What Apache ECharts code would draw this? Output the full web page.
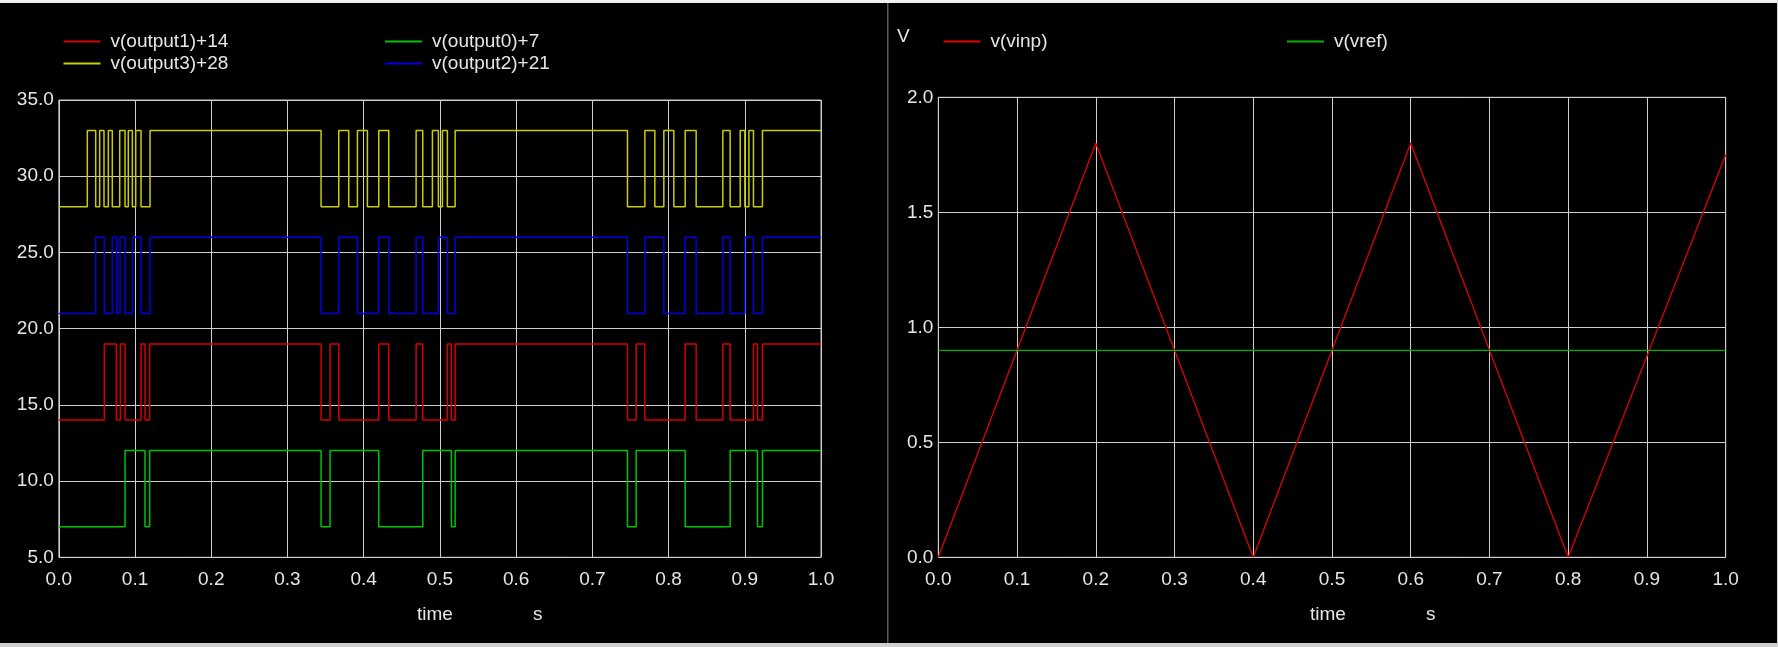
<!DOCTYPE html>
<html>
<head>
<meta charset="utf-8">
<script src="https://cdn.jsdelivr.net/npm/echarts@6/dist/echarts.min.js"></script>
<style>
html,body{margin:0;padding:0;background:#000;}
#c{width:1778px;height:647px;}
</style>
</head>
<body>
<div id="c"></div>
<script>
// ---- Data (left chart: digital outputs, toggle times in seconds; each starts low) ----
var xTicks = [0,0.1,0.2,0.3,0.4,0.5,0.6,0.7,0.8,0.9,1.0];
var logicHigh = 5;
var out1Name = 'v(output1)+14', out1Offset = 14;
var out1Toggles = [0.0597,0.0755,0.0808,0.0869,0.1079,0.1131,0.1192,
  0.3441,0.3559,0.3673,0.4198,0.4329,0.4688,0.4775,0.5098,0.5151,0.5200,
  0.7461,0.7575,0.7689,0.8218,0.8362,0.8712,0.8808,0.9114,0.9167,0.9232];
var out0Name = 'v(output0)+7', out0Offset = 7;
var out0Toggles = [0.0869,0.1131,0.1192,
  0.3441,0.3559,0.4198,0.4775,0.5151,0.5200,
  0.7461,0.7575,0.8218,0.8808,0.9167,0.9232];
var out3Name = 'v(output3)+28', out3Offset = 28;
var out3Toggles = [0.0374,0.0484,0.0536,0.0593,0.0650,0.0702,0.0799,0.0869,0.0912,0.0965,0.1009,0.1079,0.1197,
  0.3441,0.3673,0.3804,0.3918,0.4049,0.4198,0.4329,0.4688,0.4775,0.4902,0.4980,0.5033,0.5098,0.5200,
  0.7461,0.7689,0.7820,0.7938,0.8069,0.8218,0.8362,0.8712,0.8808,0.8940,0.9001,0.9054,0.9114,0.9232];
var out2Name = 'v(output2)+21', out2Offset = 21;
var out2Toggles = [0.0484,0.0597,0.0702,0.0760,0.0803,0.0869,0.0965,0.1079,0.1197,
  0.3441,0.3673,0.3918,0.4198,0.4329,0.4688,0.4775,0.4980,0.5098,0.5200,
  0.7461,0.7689,0.7938,0.8218,0.8362,0.8712,0.8808,0.9001,0.9114,0.9232];

// ---- Data (right chart) ----
var vinpTime = [0, 0.2, 0.4, 0.6, 0.8, 1.0];
var vinpVal  = [0, 1.8, 0.0, 1.8, 0.0, 1.75];
var vrefTime = [0, 1.0];
var vrefVal  = [0.9, 0.9];

function stepData(toggles, offset){
  var lvl = 0, d = [[0, offset]];
  toggles.forEach(function(t){ lvl = lvl ? 0 : logicHigh; d.push([t, offset + lvl]); });
  d.push([1.0, offset + lvl]);
  return d;
}
function zip(a,b){ return a.map(function(v,i){return [v,b[i]];}); }

var FONT = 'Liberation Sans, Arial, sans-serif';
var txtColor = '#e6e6e6';
var gridColor = '#cfcfcf';
var C = {red:'#d40000', green:'#00c400', yellow:'#cccc00', blue:'#0000e6', red2:'#e00000', green2:'#00b400'};

function xAxisCfg(gi){
  return {type:'value', gridIndex:gi, min:0, max:1, interval:0.1,
    axisLine:{show:false}, axisTick:{show:false},
    splitLine:{show:true, lineStyle:{color:gridColor, width:1}},
    axisLabel:{color:txtColor, fontFamily:FONT, fontSize:19, margin:13,
      formatter:function(v){return v.toFixed(1);}}};
}
function yAxisCfg(gi, mn, mx, iv){
  return {type:'value', gridIndex:gi, min:mn, max:mx, interval:iv,
    axisLine:{show:false}, axisTick:{show:false},
    splitLine:{show:true, lineStyle:{color:gridColor, width:1}},
    axisLabel:{color:txtColor, fontFamily:FONT, fontSize:19, margin:5,
      formatter:function(v){return v.toFixed(1);}}};
}
function legendCfg(name, left, top){
  return {data:[name], left:left, top:top, icon:'rect', itemWidth:37, itemHeight:2,
    selectedMode:false,
    textStyle:{color:txtColor, fontFamily:FONT, fontSize:19, padding:[0,0,0,5]}};
}
function lineS(name, data, color, xi, w){
  return {type:'line', name:name, data:data, xAxisIndex:xi, yAxisIndex:xi,
    showSymbol:false, symbol:'none', lineStyle:{color:color, width:w}, itemStyle:{color:color},
    animation:false};
}

var chart = echarts.init(document.getElementById('c'));
var s1 = lineS(out1Name, stepData(out1Toggles, out1Offset), C.red, 0, 1.5); s1.step='end';
var s0 = lineS(out0Name, stepData(out0Toggles, out0Offset), C.green, 0, 1.5); s0.step='end';
var s3 = lineS(out3Name, stepData(out3Toggles, out3Offset), C.yellow, 0, 1.5); s3.step='end';
var s2 = lineS(out2Name, stepData(out2Toggles, out2Offset), C.blue, 0, 1.5); s2.step='end';

chart.setOption({
  backgroundColor:'#000',
  animation:false,
  grid:[
    {left:58.8, right:1778-821, top:100, bottom:647-557.3, show:true, borderColor:'#bdbdbd', borderWidth:1, backgroundColor:'transparent'},
    {left:938.3, right:1778-1725.7, top:97.3, bottom:647-557.3, show:true, borderColor:'#bdbdbd', borderWidth:1, backgroundColor:'transparent'}
  ],
  xAxis:[xAxisCfg(0), xAxisCfg(1)],
  yAxis:[yAxisCfg(0,5,35,5), yAxisCfg(1,0,2,0.5)],
  legend:[
    legendCfg(out1Name, 58.5, 27),
    legendCfg(out0Name, 380, 27),
    legendCfg(out3Name, 58.5, 49),
    legendCfg(out2Name, 380, 49),
    legendCfg('v(vinp)', 938.5, 27),
    legendCfg('v(vref)', 1282, 27)
  ],
  series:[
    s1, s0, s3, s2,
    lineS('v(vinp)', zip(vinpTime, vinpVal), C.red2, 1, 1.3),
    lineS('v(vref)', zip(vrefTime, vrefVal), C.green2, 1, 1.3)
  ],
  graphic:[
    {type:'rect', shape:{x:0,y:0,width:1778,height:3}, style:{fill:'#f2f2f2'}, silent:true},
    {type:'rect', shape:{x:0,y:643,width:1778,height:4}, style:{fill:'#d0d0d0'}, silent:true},
    {type:'rect', shape:{x:1777,y:0,width:1,height:647}, style:{fill:'#d0d0d0'}, silent:true},
    {type:'rect', shape:{x:887,y:3,width:1.5,height:640}, style:{fill:'#5a5a5a'}, silent:true},
    {type:'text', left:897, top:27, style:{text:'V', fill:txtColor, font:'19px '+FONT}},
    {type:'text', left:417, top:605, style:{text:'time', fill:txtColor, font:'19px '+FONT}},
    {type:'text', left:533, top:605, style:{text:'s', fill:txtColor, font:'19px '+FONT}},
    {type:'text', left:1310, top:605, style:{text:'time', fill:txtColor, font:'19px '+FONT}},
    {type:'text', left:1426, top:605, style:{text:'s', fill:txtColor, font:'19px '+FONT}}
  ]
});
</script>
</body>
</html>
